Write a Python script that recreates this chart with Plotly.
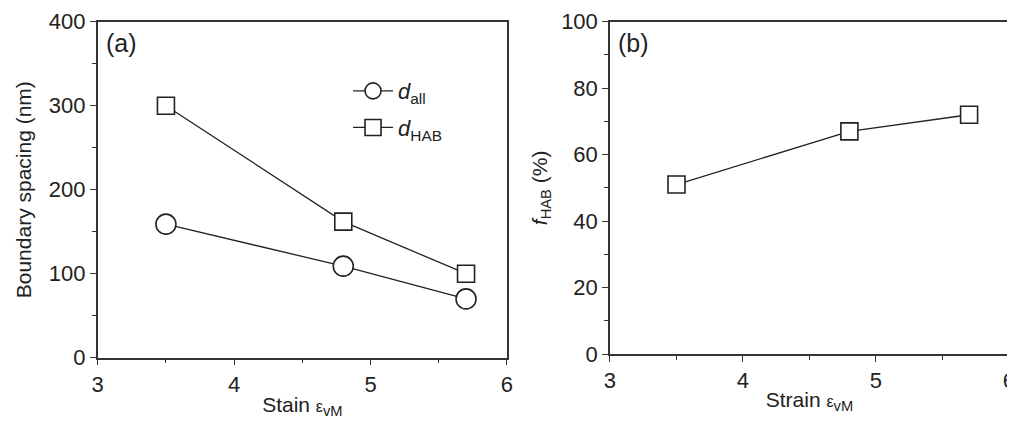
import plotly.graph_objects as go

strain = [3.5, 4.8, 5.7]
d_all = [159, 109, 70]
d_hab = [300, 162, 100]
f_hab = [51, 67, 72]

FONT = "Liberation Sans, Arial, sans-serif"
BLACK = "#222222"

fig = go.Figure()

mk = dict(color="white", line=dict(color=BLACK, width=1.6))
fig.add_trace(go.Scatter(x=strain, y=d_all, mode="lines+markers", name="<i>d</i><sub>all</sub>",
                         line=dict(color=BLACK, width=1.3),
                         marker=dict(symbol="circle", size=20, **mk),
                         xaxis="x", yaxis="y", legendgroup="a"))
fig.add_trace(go.Scatter(x=strain, y=d_hab, mode="lines+markers", name="<i>d</i><sub>HAB</sub>",
                         line=dict(color=BLACK, width=1.3),
                         marker=dict(symbol="square", size=17, **mk),
                         xaxis="x", yaxis="y", legendgroup="b"))
fig.add_trace(go.Scatter(x=strain, y=f_hab, mode="lines+markers", showlegend=False,
                         line=dict(color=BLACK, width=1.3),
                         marker=dict(symbol="square", size=17, **mk),
                         xaxis="x2", yaxis="y2"))

axis_common = dict(showline=True, linecolor="#333333", linewidth=1.5, mirror=True,
                   ticks="outside", ticklen=6, tickwidth=1.3, tickcolor="#333333",
                   showgrid=False, zeroline=False, automargin=False,
                   tickfont=dict(family=FONT, size=22, color=BLACK))

eps = "<span style='font-size:16px'>ε</span>"

fig.update_layout(
    width=1015, height=431,
    margin=dict(l=0, r=0, t=0, b=0, autoexpand=False),
    paper_bgcolor="white", plot_bgcolor="white",
    font=dict(family=FONT, color=BLACK),
    xaxis=dict(domain=[0.0884, 0.4916], range=[3, 6], dtick=1, anchor="y",
               minor=dict(dtick=0.5, ticks="outside", ticklen=4, tickcolor="#333333"),
               title=dict(text="Stain " + eps + "<sub>vM</sub>", font=dict(family=FONT, size=21), standoff=1),
               **axis_common),
    yaxis=dict(domain=[0.1886, 0.9682], range=[0, 400], dtick=100, anchor="x",
               minor=dict(dtick=50, ticks="outside", ticklen=4, tickcolor="#333333"),
               title=dict(text="Boundary spacing (nm)", font=dict(family=FONT, size=21), standoff=12),
               **axis_common),
    xaxis2=dict(domain=[0.5931, 0.9862], range=[3, 6], dtick=1, anchor="y2",
                minor=dict(dtick=0.5, ticks="outside", ticklen=4, tickcolor="#333333"),
                title=dict(text="Strain " + eps + "<sub>vM</sub>", font=dict(family=FONT, size=21), standoff=0),
                **axis_common),
    yaxis2=dict(domain=[0.1972, 0.9682], range=[0, 100], dtick=20, anchor="x2",
                minor=dict(dtick=10, ticks="outside", ticklen=4, tickcolor="#333333"),
                title=dict(text="<i>f</i><sub>HAB</sub> (%)", font=dict(family=FONT, size=21), standoff=8),
                **axis_common),
    legend=dict(x=0.335, y=0.856, xanchor="left", yanchor="top",
                bgcolor="rgba(0,0,0,0)", font=dict(family=FONT, size=22, color=BLACK),
                traceorder="grouped", tracegroupgap=5, itemwidth=40),
    showlegend=True,
    annotations=[
        dict(text="(a)", x=0.095, y=0.955, xref="paper", yref="paper", xanchor="left", yanchor="top",
             showarrow=False, font=dict(family=FONT, size=25, color=BLACK)),
        dict(text="(b)", x=0.599, y=0.955, xref="paper", yref="paper", xanchor="left", yanchor="top",
             showarrow=False, font=dict(family=FONT, size=25, color=BLACK)),
    ],
)

fig.write_html("out.html")
